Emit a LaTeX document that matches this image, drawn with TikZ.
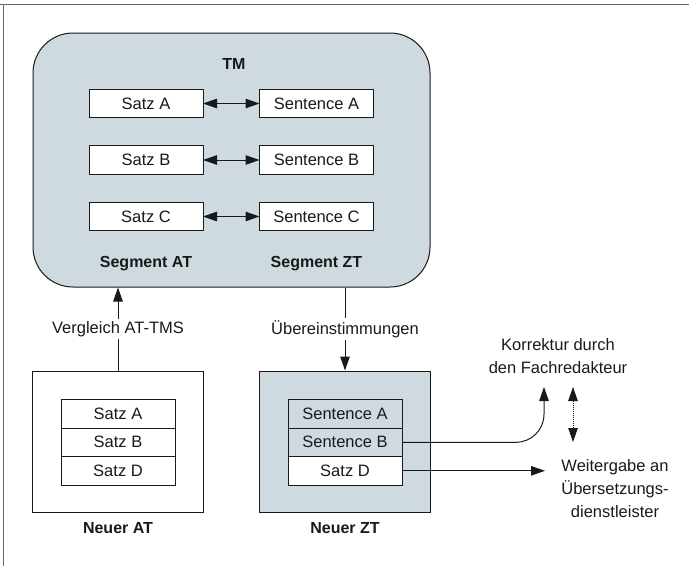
\documentclass[tikz,border=0pt]{standalone}
\usepackage{fontspec}
\setmainfont{Liberation Sans}
\usetikzlibrary{arrows.meta}
\definecolor{tmfill}{RGB}{207,218,224}
\definecolor{framegray}{RGB}{105,105,105}
\definecolor{ink}{RGB}{25,25,25}
\begin{document}
\begin{tikzpicture}[x=1pt,y=-1pt,
  txt/.style={font=\fontsize{16.5}{23}\selectfont, text=ink, inner sep=2pt, align=center},
  lbl/.style={font=\bfseries\fontsize{16}{19}\selectfont, text=ink},
  cell/.style={draw=ink, line width=1pt, fill=white, minimum width=114pt,
    minimum height=28.5pt, inner sep=0pt, outer sep=0pt,
    font=\fontsize{16.5}{19}\selectfont, text=ink},
  conn/.style={line width=1pt, draw=ink},
  tri/.tip={Triangle[length=14pt,width=9.5pt]}
]
\useasboundingbox (0,0) rectangle (689,566);

% page frame (top and left rules)
\draw[framegray, line width=1.4pt] (0,4.5) -- (689,4.5);
\draw[framegray, line width=1.4pt] (3.5,4.5) -- (3.5,566);

% translation memory
\node[draw=ink, line width=1pt, fill=tmfill, rounded corners=40pt,
      minimum width=397pt, minimum height=254pt] (tm) at (231.5,160) {};
\node[lbl] (tmlbl) at (234,64) {TM};

\node[cell] (satzA) at (146,103.5) {Satz A};
\node[cell] (sentA) at (316.5,103.5) {Sentence A};
\node[cell] (satzB) at (146,160) {Satz B};
\node[cell] (sentB) at (316.5,160) {Sentence B};
\node[cell] (satzC) at (146,216.5) {Satz C};
\node[cell] (sentC) at (316.5,216.5) {Sentence C};

\draw[conn, tri-tri] (satzA.east) -- (sentA.west);
\draw[conn, tri-tri] (satzB.east) -- (sentB.west);
\draw[conn, tri-tri] (satzC.east) -- (sentC.west);

\node[lbl] (segAT) at (146,264) {Segment AT};
\node[lbl] (segZT) at (316.5,264) {Segment ZT};

% new source text
\node[draw=ink, line width=1pt, fill=white, minimum width=171pt,
      minimum height=141pt] (nat) at (117.5,441.5) {};
\node[cell] (natA) at (118,413.8) {Satz A};
\node[cell, anchor=north] (natB) at (natA.south) {Satz B};
\node[cell, anchor=north] (natD) at (natB.south) {Satz D};
\node[lbl] (natlbl) at (118,528) {Neuer AT};

% new target text
\node[draw=ink, line width=1pt, fill=tmfill, minimum width=171pt,
      minimum height=141pt] (nzt) at (345,441.5) {};
\node[cell, fill=tmfill] (nztA) at (345,413.8) {Sentence A};
\node[cell, fill=tmfill, anchor=north] (nztB) at (nztA.south) {Sentence B};
\node[cell, anchor=north] (nztD) at (nztB.south) {Satz D};
\node[lbl] (nztlbl) at (345,528) {Neuer ZT};

% comparison and matches
\node[txt] (verg) at (118,329) {Vergleich AT-TMS};
\draw[conn] (nat.north -| verg.south) -- (verg.south);
\draw[conn, -tri] (verg.north) -- (verg.north |- tm.south);

\node[txt] (match) at (345,329) {Übereinstimmungen};
\draw[conn] (match.north |- tm.south) -- (match.north);
\draw[conn, -tri] (match.south) -- (match.south |- nzt.north);

% further processing
\node[txt] (korr) at (558,356) {Korrektur durch\\den Fachredakteur};
\node[txt] (weiter) at (615,489) {Weitergabe an\\Übersetzungs-\\dienstleister};

\coordinate (korTip) at (544,387);
\coordinate (weiTip) at (545,470);
\coordinate (dTop) at (573,387);
\coordinate (dBot) at (573,442);

\draw[conn, -tri, rounded corners=28pt] (nztB.east) -| (korTip);
\draw[conn, -tri] (nztD.east) -- (weiTip |- nztD.east);
\draw[line width=0.8pt, draw=ink, dash pattern=on 1pt off 1pt, tri-tri] (dTop) -- (dBot);
\end{tikzpicture}
\end{document}
